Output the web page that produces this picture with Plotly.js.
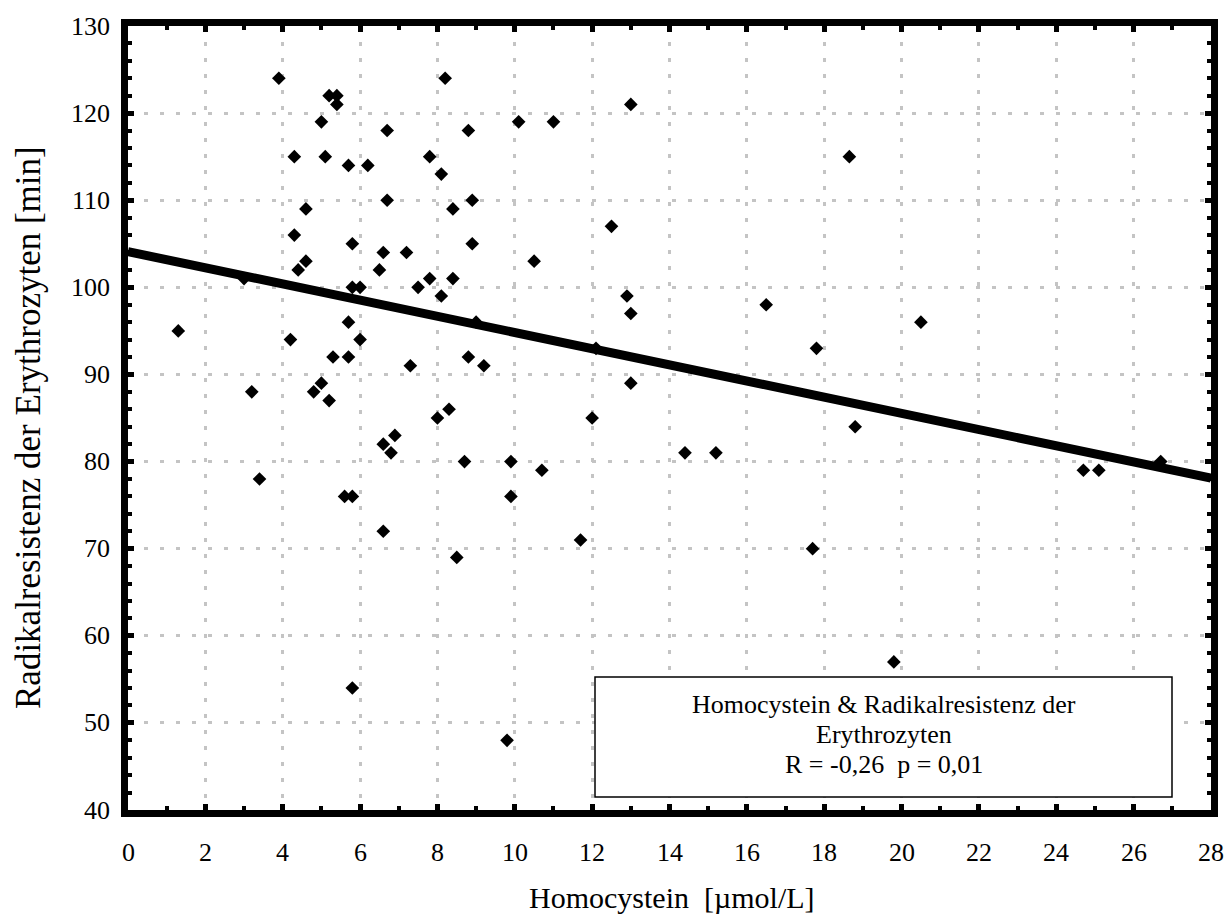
<!DOCTYPE html>
<html>
<head>
<meta charset="utf-8">
<script src="https://cdn.plot.ly/plotly-3.0.1.min.js"></script>
<style>
  html, body { margin: 0; padding: 0; background: #ffffff; }
  #chart { width: 1229px; height: 918px; }
</style>
</head>
<body>
<div id="chart"></div>
<script>
// Homocystein [µmol/L]
var homocystein = [
  1.3, 3.0, 3.2, 3.4, 3.9, 4.2, 4.3, 4.3, 4.4, 4.6,
  4.6, 4.8, 5.0, 5.0, 5.1, 5.2, 5.2, 5.3, 5.4, 5.4,
  5.6, 5.7, 5.7, 5.7, 5.8, 5.8, 5.8, 5.8, 6.0, 6.0,
  6.2, 6.5, 6.6, 6.6, 6.6, 6.7, 6.7, 6.8, 6.9, 7.2,
  7.3, 7.5, 7.8, 7.8, 8.0, 8.1, 8.1, 8.2, 8.3, 8.4,
  8.4, 8.5, 8.7, 8.8, 8.8, 8.9, 8.9, 9.0, 9.2, 9.8,
  9.9, 9.9, 10.1, 10.5, 10.7, 11.0, 11.7, 12.0, 12.1, 12.5,
  12.9, 13.0, 13.0, 13.0, 14.4, 15.2, 16.5, 17.7, 17.8, 18.65,
  18.8, 19.8, 20.5, 24.7, 25.1, 26.7
];
// Radikalresistenz der Erythrozyten [min]
var radikalresistenz = [
  95, 101, 88, 78, 124, 94, 115, 106, 102, 109,
  103, 88, 119, 89, 115, 122, 87, 92, 122, 121,
  76, 114, 96, 92, 105, 100, 76, 54, 100, 94,
  114, 102, 104, 82, 72, 118, 110, 81, 83, 104,
  91, 100, 115, 101, 85, 113, 99, 124, 86, 109,
  101, 69, 80, 118, 92, 110, 105, 96, 91, 48,
  80, 76, 119, 103, 79, 119, 71, 85, 93, 107,
  99, 121, 97, 89, 81, 81, 98, 70, 93, 115,
  84, 57, 96, 79, 79, 80
];
// Regression line end points
var regressionX = [0, 28];
var regressionY = [104.1, 78.1];

var xTicks = [0, 2, 4, 6, 8, 10, 12, 14, 16, 18, 20, 22, 24, 26, 28];
var yTicks = [40, 50, 60, 70, 80, 90, 100, 110, 120, 130];

var xTitle = "Homocystein  [µmol/L]";
var yTitle = "Radikalresistenz der Erythrozyten [min]";
var boxLines = [
  "Homocystein & Radikalresistenz der",
  "Erythrozyten",
  "R = -0,26  p = 0,01"
];

var FONT = "Liberation Serif";

// plot area in pixels (for paper coordinates of the box / text)
var PL = 128, PR = 1211, PT = 26, PB = 810;
function px2paperX(px) { return (px - PL) / (PR - PL); }
function px2paperY(py) { return (PB - py) / (PB - PT); }

var traces = [
  {
    type: "scatter",
    mode: "markers",
    x: homocystein,
    y: radikalresistenz,
    marker: { symbol: "diamond", size: 10.5, color: "#000000", line: { width: 0 } },
    cliponaxis: false,
    hoverinfo: "x+y",
    showlegend: false
  },
  {
    type: "scatter",
    mode: "lines",
    x: regressionX,
    y: regressionY,
    line: { color: "#000000", width: 9 },
    showlegend: false,
    hoverinfo: "skip"
  }
];

function makeAxis(extra) {
  var a = {
    showline: true,
    linecolor: "#000000",
    linewidth: 7,
    mirror: "allticks",
    ticks: "inside",
    ticklen: 6,
    tickwidth: 5,
    tickcolor: "#000000",
    showgrid: true,
    gridcolor: "#c4c4c4",
    gridwidth: 3,
    griddash: "4px,12px",
    zeroline: false,
    showticklabels: false
  };
  for (var k in extra) a[k] = extra[k];
  return a;
}

var annotations = [
  {
    xref: "paper", yref: "paper",
    x: px2paperX(28), y: px2paperY(428),
    xanchor: "center", yanchor: "middle",
    textangle: -90,
    text: yTitle,
    showarrow: false,
    font: { family: FONT, size: 35, color: "#000000" }
  },
  {
    xref: "paper", yref: "paper",
    x: px2paperX(672), y: px2paperY(897),
    xanchor: "center", yanchor: "middle",
    text: xTitle,
    showarrow: false,
    font: { family: FONT, size: 30, color: "#000000" }
  }
];
// tick labels placed through the axis scales
xTicks.forEach(function (v) {
  annotations.push({
    xref: "x", yref: "paper",
    x: v, y: px2paperY(852),
    xanchor: "center", yanchor: "middle",
    text: String(v),
    showarrow: false,
    font: { family: FONT, size: 26, color: "#000000" }
  });
});
yTicks.forEach(function (v) {
  annotations.push({
    xref: "paper", yref: "y",
    x: px2paperX(112), y: v,
    xanchor: "right", yanchor: "middle",
    text: String(v),
    showarrow: false,
    font: { family: FONT, size: 26, color: "#000000" }
  });
});
var lineCenters = [704, 734, 764];
for (var i = 0; i < boxLines.length; i++) {
  annotations.push({
    xref: "paper", yref: "paper",
    x: px2paperX(883.5), y: px2paperY(lineCenters[i]),
    xanchor: "center", yanchor: "middle",
    text: boxLines[i],
    showarrow: false,
    font: { family: FONT, size: 26, color: "#000000" }
  });
}

var layout = {
  width: 1229,
  height: 918,
  margin: { l: PL, r: 1229 - PR, t: PT, b: 918 - PB },
  paper_bgcolor: "#ffffff",
  plot_bgcolor: "#ffffff",
  showlegend: false,
  font: { family: FONT, color: "#000000", size: 26 },
  xaxis: makeAxis({
    range: [0, 28],
    tickmode: "array",
    tickvals: xTicks,
    minor: { ticks: "inside", ticklen: 4, tickwidth: 4, tickcolor: "#000000", dtick: 1, showgrid: false }
  }),
  yaxis: makeAxis({
    range: [40, 130],
    tickmode: "array",
    tickvals: yTicks,
    minor: { ticks: "inside", ticklen: 4, tickwidth: 4, tickcolor: "#000000", dtick: 2, showgrid: false }
  }),
  shapes: [
    {
      type: "rect",
      xref: "paper", yref: "paper",
      x0: px2paperX(595), x1: px2paperX(1172),
      y0: px2paperY(797), y1: px2paperY(677),
      line: { color: "#000000", width: 1.5 },
      fillcolor: "#ffffff",
      layer: "above"
    }
  ],
  annotations: annotations
};

Plotly.newPlot("chart", traces, layout, { displayModeBar: false, staticPlot: true });
</script>
</body>
</html>
